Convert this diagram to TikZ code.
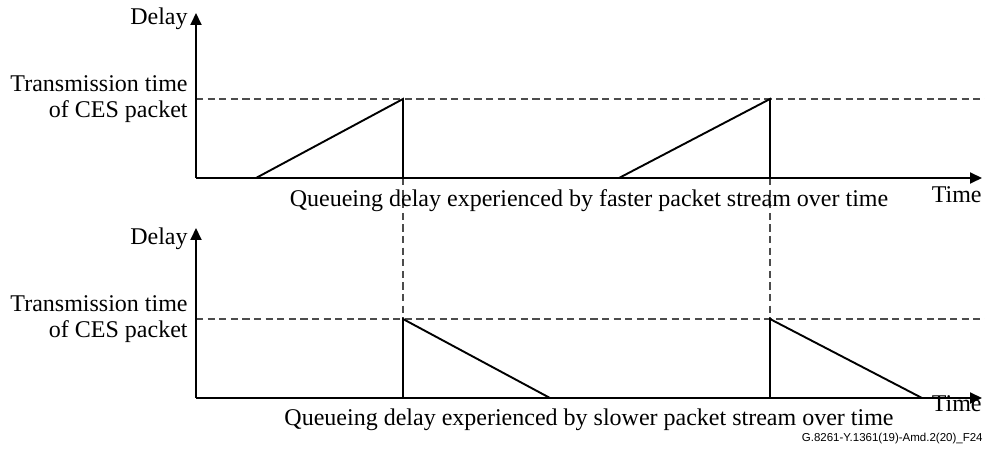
\documentclass[tikz,border=0pt]{standalone}
\usepackage{fontspec}
\setmainfont{Liberation Serif}
\newfontfamily\arialfont{Liberation Sans}
\usetikzlibrary{arrows.meta}
\begin{document}
\begin{tikzpicture}[x=0.5pt,y=-0.5pt,
  axisline/.style={line width=0.95pt,-{Triangle[length=6pt,width=5.5pt]}},
  curve/.style={line width=0.95pt},
  guide/.style={dash pattern=on 3.6pt off 2.2pt,line width=0.7pt,draw=black!70},
  lbl/.style={inner sep=0pt,font=\fontsize{12pt}{13pt}\selectfont},
  fn/.style={inner sep=0pt,font=\arialfont\fontsize{5.75pt}{7pt}\selectfont}]
\useasboundingbox (0,0) rectangle (985,459);
% ---- top plot coordinates
\coordinate (tO) at (196,178);
\coordinate (tY) at (196,13);
\coordinate (tX) at (982,178);
\coordinate (tLs) at (196,99);
\coordinate (tLe) at (985,99);
\coordinate (tA0) at (256,178);
\coordinate (tA1) at (403,99);
\coordinate (tA2) at (403,178);
\coordinate (tB0) at (619,178);
\coordinate (tB1) at (770,99);
\coordinate (tB2) at (770,178);
% ---- bottom plot coordinates
\coordinate (bO) at (196,398);
\coordinate (bY) at (196,228);
\coordinate (bX) at (982,398);
\coordinate (bLs) at (196,319);
\coordinate (bLe) at (985,319);
\coordinate (bA0) at (403,398);
\coordinate (bA1) at (403,319);
\coordinate (bA2) at (550,398);
\coordinate (bB0) at (770,398);
\coordinate (bB1) at (770,319);
\coordinate (bB2) at (922,398);
% guides
\draw[guide] (tLs) -- (tLe);
\draw[guide] (bLs) -- (bLe);
\draw[guide] (tA2) -- (bA1);
\draw[guide] (tB2) -- (bB1);
% axes
\draw[axisline] (tO) -- (tY);
\draw[axisline] (tO) -- (tX);
\draw[axisline] (bO) -- (bY);
\draw[axisline] (bO) -- (bX);
% sawtooth
\draw[curve] (tA0) -- (tA1) -- (tA2);
\draw[curve] (tB0) -- (tB1) -- (tB2);
\draw[curve] (bA0) -- (bA1) -- (bA2);
\draw[curve] (bB0) -- (bB1) -- (bB2);
% labels
\node[lbl,anchor=base east] (tdelay) at (188,25) {Delay};
\node[lbl,anchor=base east] (bdelay) at (188,245) {Delay};
\node[lbl,anchor=base east] (ttx1) at (188,92) {Transmission time};
\node[lbl,anchor=base east] (ttx2) at (188,118) {of CES packet};
\node[lbl,anchor=base east] (btx1) at (188,312) {Transmission time};
\node[lbl,anchor=base east] (btx2) at (188,338) {of CES packet};
\node[lbl,anchor=base east] (ttime) at (982,203) {Time};
\node[lbl,anchor=base east] (btime) at (982,412) {Time};
\node[lbl,anchor=base] (tcap) at (589,207) {Queueing delay experienced by faster packet stream over time};
\node[lbl,anchor=base] (bcap) at (589,426) {Queueing delay experienced by slower packet stream over time};
\node[fn,anchor=base east] (fnote) at (983,442) {G.8261-Y.1361(19)-Amd.2(20)\_F24};
\end{tikzpicture}
\end{document}
